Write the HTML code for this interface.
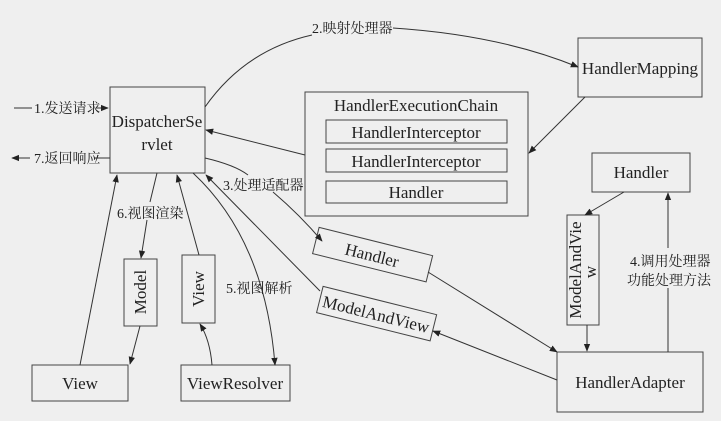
<!DOCTYPE html>
<html><head><meta charset="utf-8"><style>
html,body{margin:0;padding:0;background:#efefef;}
svg{display:block}
.s{font-family:"Liberation Serif","Noto Serif CJK SC",serif;}
.c{font-family:"Liberation Serif","Noto Serif CJK SC",serif;font-size:14px;}
</style></head><body>
<svg width="721" height="421" viewBox="0 0 721 421" xmlns="http://www.w3.org/2000/svg">
<defs><marker id="a" viewBox="0 0 10 10" refX="9" refY="5" markerWidth="8" markerHeight="8" orient="auto-start-reverse" markerUnits="userSpaceOnUse"><path d="M0,1 L10,5 L0,9 z" fill="#222"/></marker></defs>
<rect width="721" height="421" fill="#efefef"/>
<g fill="none" stroke="#444" stroke-width="1">
<rect x="110" y="87" width="95" height="86"/>
<rect x="578" y="38" width="124" height="59"/>
<rect x="305" y="92" width="223" height="124"/>
<rect x="326" y="120" width="181" height="23"/>
<rect x="326" y="149" width="181" height="23"/>
<rect x="326" y="181" width="181" height="22"/>
<rect x="592" y="153" width="98" height="39"/>
<rect x="567" y="215" width="32" height="110"/>
<rect x="557" y="352" width="146" height="60"/>
<rect x="32" y="365" width="96" height="36"/>
<rect x="181" y="365" width="109" height="36"/>
<rect x="124" y="259" width="33" height="67"/>
<rect x="182" y="255" width="33" height="68"/>
<rect x="314" y="241" width="117" height="27" transform="rotate(14 372 255)"/>
<rect x="318" y="300" width="117" height="27" transform="rotate(14 376 314)"/>
</g>
<g fill="none" stroke="#333" stroke-width="1">
<line x1="14" y1="108" x2="32" y2="108"/>
<line x1="96" y1="108" x2="108" y2="108" marker-end="url(#a)"/>
<line x1="30" y1="158" x2="12" y2="158" marker-end="url(#a)"/>
<line x1="94" y1="158" x2="110" y2="158"/>
<path d="M205,107 Q245,50 312,35"/>
<path d="M393,28 Q500,35 578,67" marker-end="url(#a)"/>
<line x1="585" y1="97" x2="529" y2="153" marker-end="url(#a)"/>
<line x1="305" y1="155" x2="206" y2="130" marker-end="url(#a)"/>
<path d="M205,158 Q235,165 248,175"/>
<path d="M273,192 Q300,215 322,241" marker-end="url(#a)"/>
<line x1="428" y1="272" x2="557" y2="352" marker-end="url(#a)"/>
<line x1="557" y1="380" x2="433" y2="331" marker-end="url(#a)"/>
<line x1="320" y1="291" x2="206" y2="175" marker-end="url(#a)"/>
<path d="M193,173 Q265,240 275,365" marker-end="url(#a)"/>
<line x1="157" y1="173" x2="150" y2="202"/>
<line x1="147" y1="220" x2="141" y2="258" marker-end="url(#a)"/>
<line x1="140" y1="326" x2="130" y2="364" marker-end="url(#a)"/>
<line x1="80" y1="365" x2="117" y2="175" marker-end="url(#a)"/>
<line x1="199" y1="255" x2="177" y2="175" marker-end="url(#a)"/>
<path d="M212,365 Q210,340 200,324" marker-end="url(#a)"/>
<line x1="624" y1="192" x2="585" y2="215" marker-end="url(#a)"/>
<line x1="587" y1="325" x2="587" y2="351" marker-end="url(#a)"/>
<line x1="668" y1="352" x2="668" y2="288"/>
<line x1="668" y1="248" x2="668" y2="193" marker-end="url(#a)"/>
</g>
<g class="s" font-size="17" fill="#222" font-family="Liberation Serif, serif">
<text x="157" y="127" text-anchor="middle">DispatcherSe</text>
<text x="157" y="150" text-anchor="middle">rvlet</text>
<text x="640" y="74" text-anchor="middle">HandlerMapping</text>
<text x="416" y="111" text-anchor="middle">HandlerExecutionChain</text>
<text x="416" y="138" text-anchor="middle">HandlerInterceptor</text>
<text x="416" y="167" text-anchor="middle">HandlerInterceptor</text>
<text x="416" y="198" text-anchor="middle">Handler</text>
<text x="641" y="178" text-anchor="middle">Handler</text>
<text x="630" y="388" text-anchor="middle">HandlerAdapter</text>
<text x="80" y="389" text-anchor="middle">View</text>
<text x="235" y="389" text-anchor="middle">ViewResolver</text>
<text transform="translate(372 255) rotate(14)" y="6" text-anchor="middle">Handler</text>
<text transform="translate(376 314) rotate(14)" y="6" text-anchor="middle">ModelAndView</text>
<text transform="translate(146 292) rotate(-90)" text-anchor="middle">Model</text>
<text transform="translate(204 289) rotate(-90)" text-anchor="middle">View</text>
<text transform="translate(581 270) rotate(-90)" text-anchor="middle">ModelAndVie</text>
<text transform="translate(596 272) rotate(-90)" text-anchor="middle">w</text>
</g>
<g class="c" fill="#222">
<text x="34" y="113">1.发送请求</text>
<text x="34" y="163">7.返回响应</text>
<text x="312" y="33">2.映射处理器</text>
<text x="223" y="190">3.处理适配器</text>
<text x="117" y="218">6.视图渲染</text>
<text x="226" y="293">5.视图解析</text>
<text x="630" y="266">4.调用处理器</text>
<text x="627" y="285">功能处理方法</text>
</g>
</svg>
</body></html>
